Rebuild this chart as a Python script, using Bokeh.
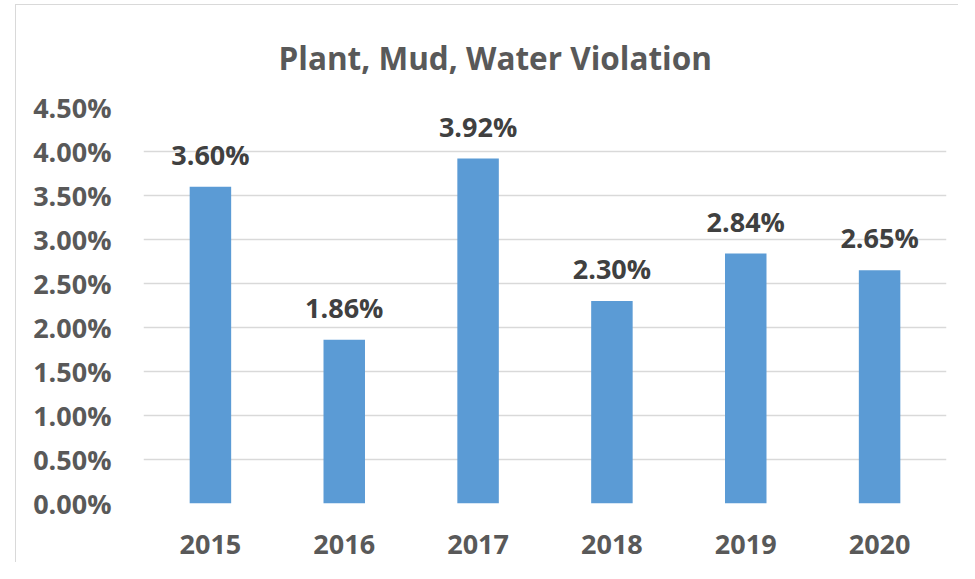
from bokeh.plotting import figure
from bokeh.models import ColumnDataSource, FixedTicker, NumeralTickFormatter
from bokeh.core.properties import value
from bokeh.embed import file_html
from bokeh.resources import INLINE

years = ["2015", "2016", "2017", "2018", "2019", "2020"]
rates = [0.0360, 0.0186, 0.0392, 0.0230, 0.0284, 0.0265]
rate_labels = ["3.60%", "1.86%", "3.92%", "2.30%", "2.84%", "2.65%"]
y_ticks = [0.0, 0.005, 0.01, 0.015, 0.02, 0.025, 0.03, 0.035, 0.04, 0.045]

FONT = "Open Sans"
TXT = "#595959"

src = ColumnDataSource(dict(x=years, y=rates, lab=rate_labels))

p = figure(
    x_range=years, y_range=(0, 0.045),
    width=943, height=558,
    output_backend="svg", toolbar_location=None,
    title="Plant, Mud, Water Violation",
    min_border_left=127, min_border_right=13, min_border_top=102, min_border_bottom=60,
    margin=(4, 0, 0, 15),
)
p.styles = {"border-left": "1px solid #D9D9D9", "border-top": "1px solid #D9D9D9"}
p.outline_line_color = None
p.background_fill_color = "white"
p.border_fill_color = "white"

p.title.align = "left"
p.title.offset = 135
p.title.vertical_align = "top"
p.title.text_font = FONT
p.title.text_font_size = "31.5px"
p.title.text_font_style = "bold"
p.title.text_color = TXT
p.title.standoff = 54

p.vbar(x="x", top="y", width=0.31, source=src, fill_color="#5B9BD5", line_color=None)
p.text(x="x", y="y", text="lab", source=src, text_align="center", text_baseline="bottom",
       y_offset=-14, text_font=value(FONT), text_font_size="27px", text_font_style="bold",
       text_color="#404040")

p.yaxis.ticker = FixedTicker(ticks=y_ticks)
p.yaxis.formatter = NumeralTickFormatter(format="0.00%")
for ax in (p.xaxis[0], p.yaxis[0]):
    ax.axis_line_color = None
    ax.major_tick_line_color = None
    ax.minor_tick_line_color = None
    ax.major_label_text_font = FONT
    ax.major_label_text_font_size = "27px"
    ax.major_label_text_font_style = "bold"
    ax.major_label_text_color = TXT
p.yaxis.major_label_standoff = 26
p.xaxis.major_label_standoff = 25

p.xgrid.grid_line_color = None
p.ygrid.grid_line_color = "#D9D9D9"
p.ygrid.grid_line_width = 1.5

open("out.html", "w").write(file_html(p, INLINE))
